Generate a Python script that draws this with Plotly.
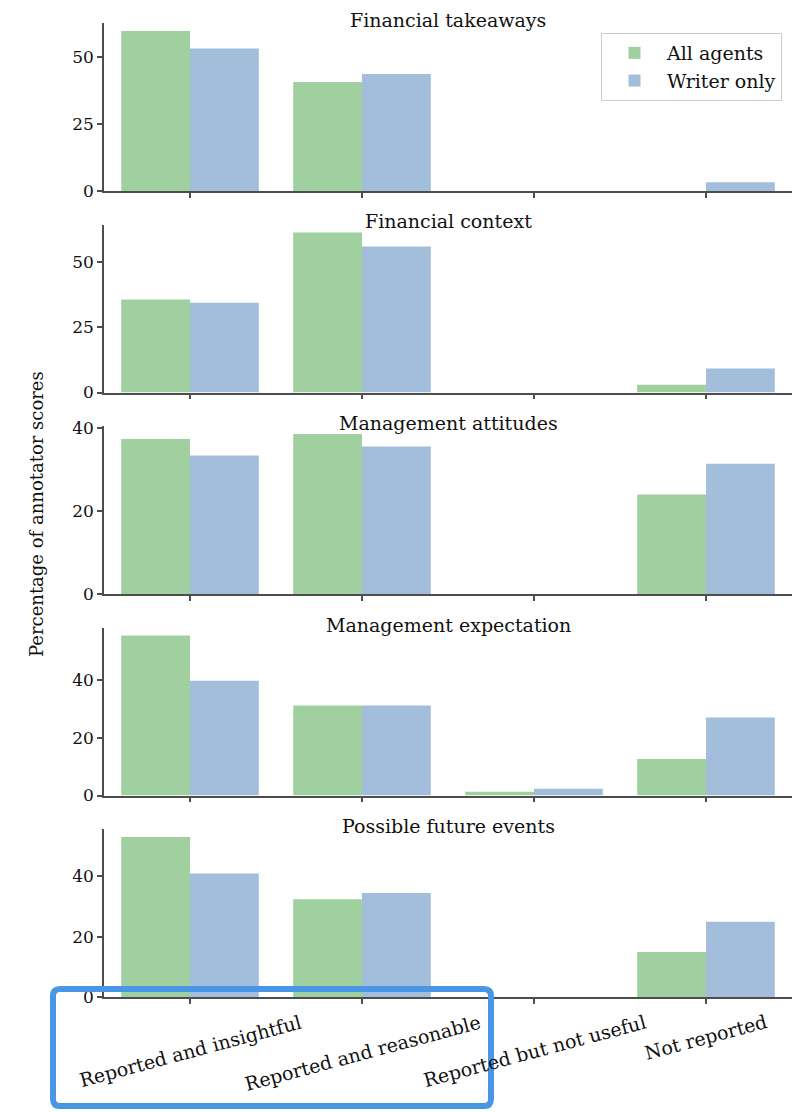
import plotly.graph_objects as go

# Score categories and panel names
categories = ["Reported and insightful", "Reported and reasonable",
              "Reported but not useful", "Not reported"]
panels = ["Financial takeaways", "Financial context", "Management attitudes",
          "Management expectation", "Possible future events"]

# Percentage of annotator scores per panel
all_agents = [
    [59.6, 40.6, 0.0, 0.0],
    [35.7, 61.4, 0.0, 3.0],
    [37.4, 38.6, 0.0, 24.0],
    [55.3, 31.1, 1.3, 12.6],
    [53.1, 32.4, 0.0, 14.9],
]
writer_only = [
    [53.1, 43.6, 0.0, 3.3],
    [34.4, 56.0, 0.0, 9.2],
    [33.4, 35.6, 0.0, 31.4],
    [39.7, 31.1, 2.3, 27.0],
    [41.0, 34.5, 0.0, 25.0],
]
y_tick_step = [25, 25, 20, 20, 20]

GREEN = "#a0d0a0"
BLUE = "#a3bedb"
SPINE = "#4d4d4d"
TEXT = "#111111"
FONT = "DejaVu Serif"
LABEL_SIZE = 19

W, H = 802, 1112
ML, MR, MT, MB = 104, 10, 23, 115
plot_w = W - ML - MR
plot_h = H - MT - MB
panel_h = 168
step = 201.5


def py(px):
    """Convert a pixel row to paper units."""
    return (H - MB - px) / plot_h


def px_x(px):
    return (px - ML) / plot_w


fig = go.Figure()
layout = {}
annotations = []
n = len(panels)
for k in range(n):
    idx = "" if k == 0 else str(k + 1)
    xa, ya = "x" + idx, "y" + idx
    bottom_px = MT + panel_h + step * k
    top_px = bottom_px - panel_h
    dom = [py(bottom_px), py(top_px)]

    fig.add_trace(go.Bar(x=categories, y=all_agents[k], name="All agents",
                         marker=dict(color=GREEN, line=dict(width=0)),
                         xaxis=xa, yaxis=ya, showlegend=(k == 0),
                         legendgroup="a"))
    fig.add_trace(go.Bar(x=categories, y=writer_only[k], name="Writer only",
                         marker=dict(color=BLUE, line=dict(width=0)),
                         xaxis=xa, yaxis=ya, showlegend=(k == 0),
                         legendgroup="w"))

    ymax = max(max(all_agents[k]), max(writer_only[k])) * 1.05
    layout["xaxis" + idx] = dict(
        domain=[0, 1], anchor=ya, type="category",
        range=[-0.5, len(categories) - 0.5],
        showline=True, linecolor=SPINE, linewidth=1.5,
        ticks="outside", ticklen=5, tickwidth=1.5, tickcolor=SPINE,
        showticklabels=False, showgrid=False, zeroline=False,
    )
    layout["yaxis" + idx] = dict(
        domain=dom, anchor=xa, range=[0, ymax],
        tick0=0, dtick=y_tick_step[k],
        showline=True, linecolor=SPINE, linewidth=1.5,
        ticks="outside", ticklen=5, tickwidth=1.5, tickcolor=SPINE,
        tickfont=dict(family=FONT, size=17, color=TEXT),
        showgrid=False, zeroline=False,
    )
    # Panel title
    annotations.append(dict(
        text=panels[k], xref="paper", x=0.5, yref="paper", y=dom[1],
        xanchor="center", yanchor="middle", yshift=3, showarrow=False,
        font=dict(family=FONT, size=LABEL_SIZE, color=TEXT),
    ))

# Rotated category labels under the last panel
last = str(n)
for c in categories:
    annotations.append(dict(
        text=c, xref="x" + last, x=c, yref="y" + last + " domain", y=0,
        xanchor="center", yanchor="top", yshift=-11, textangle=-15,
        showarrow=False, font=dict(family=FONT, size=LABEL_SIZE, color=TEXT),
    ))

# Shared y-axis title
annotations.append(dict(
    text="Percentage of annotator scores", xref="paper", x=px_x(36),
    yref="paper", y=py(514), xanchor="center", yanchor="middle",
    textangle=-90, showarrow=False,
    font=dict(family=FONT, size=18, color=TEXT),
))

# Highlight frame around the first two category labels (rounded corners)
x0, x1 = px_x(53), px_x(491)
y0, y1 = py(1106), py(989)
rx, ry = 7 / plot_w, 7 / plot_h
frame_path = (
    f"M{x0 + rx},{y1} L{x1 - rx},{y1} Q{x1},{y1} {x1},{y1 - ry} "
    f"L{x1},{y0 + ry} Q{x1},{y0} {x1 - rx},{y0} "
    f"L{x0 + rx},{y0} Q{x0},{y0} {x0},{y0 + ry} "
    f"L{x0},{y1 - ry} Q{x0},{y1} {x0 + rx},{y1} Z"
)

fig.update_layout(
    width=W, height=H,
    margin=dict(l=ML, r=MR, t=MT, b=MB),
    paper_bgcolor="white", plot_bgcolor="white",
    barmode="group", bargap=0.2, bargroupgap=0,
    annotations=annotations,
    legend=dict(
        x=px_x(782), y=py(33), xanchor="right", yanchor="top",
        bgcolor="white", bordercolor="#cccccc", borderwidth=1,
        font=dict(family=FONT, size=LABEL_SIZE, color=TEXT),
        itemwidth=55, tracegroupgap=0,
    ),
    shapes=[dict(
        type="path", path=frame_path, xref="paper", yref="paper",
        layer="above", line=dict(color="#4a96e6", width=6),
    )],
    **layout,
)

fig.write_html("out.html")
